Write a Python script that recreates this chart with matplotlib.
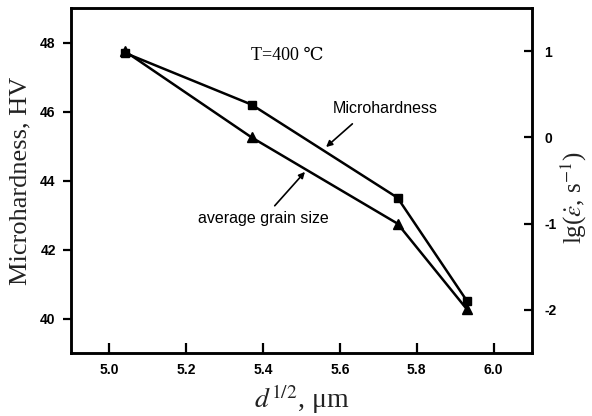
import matplotlib
matplotlib.use("Agg")
import matplotlib.pyplot as plt

# Data
grain_d = [5.04, 5.37, 5.75, 5.93]          # d^(1/2), um
microhardness = [47.7, 46.2, 43.5, 40.52]    # HV (left axis)
lg_strain_rate = [1.0, 0.0, -1.0, -1.99]     # lg(strain rate) (right axis)

x_ticks = [5.0, 5.2, 5.4, 5.6, 5.8, 6.0]
left_ticks = [40, 42, 44, 46, 48]
right_ticks = [-2, -1, 0, 1]

plt.rcParams['axes.unicode_minus'] = False
plt.rcParams['mathtext.fontset'] = 'stix'

serif = 'Liberation Serif'
sans = 'Liberation Sans'
label_color = '#222222'

fig = plt.figure(figsize=(5.92, 4.16), dpi=100)
ax = fig.add_axes([71 / 592, 63 / 416, 461 / 592, 345 / 416])
ax2 = ax.twinx()

ax.plot(grain_d, microhardness, color='black', lw=1.8, marker='s', ms=6,
        zorder=3)
ax2.plot(grain_d, lg_strain_rate, color='black', lw=1.8, marker='^', ms=7,
         zorder=3)

ax.set_xlim(4.9, 6.1)
ax.set_ylim(39, 49)
ax2.set_ylim(-2.5, 1.5)

ax.set_xticks(x_ticks)
ax.set_xticklabels([f"{v:.1f}" for v in x_ticks])
ax.set_yticks(left_ticks)
ax2.set_yticks(right_ticks)
ax2.set_yticklabels([str(v) for v in right_ticks])

for a in (ax, ax2):
    for s in a.spines.values():
        s.set_linewidth(1.8)
    for lbl in a.get_xticklabels() + a.get_yticklabels():
        lbl.set_fontfamily(sans)
        lbl.set_fontweight('bold')
        lbl.set_fontsize(10)

ax.tick_params(axis='y', direction='out', length=6, width=1.6, pad=5)
ax.tick_params(axis='x', direction='in', length=7, width=1.6, pad=7)
ax2.tick_params(axis='y', direction='in', length=6, width=1.6, pad=9)

ax.set_ylabel('Microhardness, HV', fontfamily=serif, fontsize=19,
              color=label_color, labelpad=6)
ax.set_xlabel(r'$d^{1/2}$, μm', fontfamily=serif, fontsize=20,
              color=label_color, labelpad=4)
fig.text(574 / 592, 0.525, r'lg($\dot{\varepsilon}$, s$^{-1}$)',
         fontfamily=serif, fontsize=18, color=label_color, rotation=90,
         ha='center', va='center')

ax.text(5.462, 47.62, 'T=400 ℃', fontfamily=[serif, 'DejaVu Serif'],
        fontsize=13, ha='center', va='center')

ax.annotate('Microhardness', xy=(5.564, 44.97), xytext=(5.717, 46.10),
            fontfamily=sans, fontsize=11.5, ha='center', va='center',
            arrowprops=dict(arrowstyle='-|>', color='black', lw=1.2,
                            mutation_scale=9, shrinkA=6, shrinkB=0,
                            relpos=(0.28, 0.0)))
ax.annotate('average grain size', xy=(5.509, 44.25), xytext=(5.402, 42.91),
            fontfamily=sans, fontsize=11.5, ha='center', va='center',
            arrowprops=dict(arrowstyle='-|>', color='black', lw=1.2,
                            mutation_scale=9, shrinkA=2, shrinkB=0,
                            relpos=(0.55, 1.0)))

fig.savefig('out.png', dpi=100)
